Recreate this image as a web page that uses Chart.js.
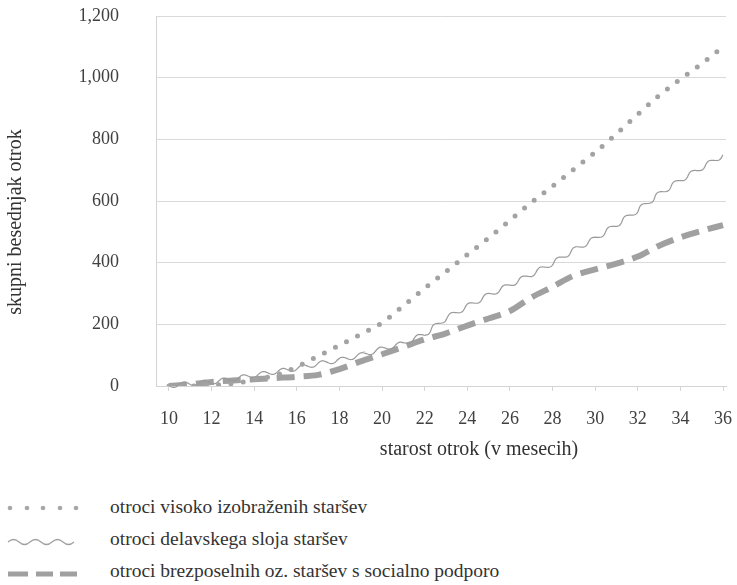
<!DOCTYPE html>
<html>
<head>
<meta charset="utf-8">
<script src="https://cdn.jsdelivr.net/npm/chart.js@4.4.1/dist/chart.umd.min.js"></script>
<style>
  body { margin: 0; background: #fff; }
  #wrap { position: relative; width: 737px; height: 585px; }
  #graf { position: absolute; left: 0; top: 0; }
  .leg { position: absolute; left: 0; height: 30px; width: 737px; font-family: "Liberation Serif", serif; font-size: 19.5px; color: #333; }
  .leg svg { position: absolute; left: 0; top: 5px; }
  .leg span { position: absolute; left: 110px; top: 3px; white-space: nowrap; }
</style>
</head>
<body>
<div id="wrap">
  <canvas id="graf" width="737" height="470"></canvas>
  <div class="leg" style="top:493px">
    <svg width="90" height="20"><g fill="#a8a8a8"><circle cx="10" cy="10" r="2.3"/><circle cx="27" cy="10" r="2.3"/><circle cx="43" cy="10" r="2.3"/><circle cx="60" cy="10" r="2.3"/><circle cx="76" cy="10" r="2.3"/></g></svg>
    <span>otroci visoko izobraženih staršev</span>
  </div>
  <div class="leg" style="top:525px">
    <svg width="90" height="20"><path d="M8 12 q5.5 -5 11 0 t11 0 t11 0 t11 0 t11 0 t11 0" fill="none" stroke="#a0a0a0" stroke-width="1.2"/></svg>
    <span>otroci delavskega sloja staršev</span>
  </div>
  <div class="leg" style="top:557px">
    <svg width="90" height="20"><g stroke="#a0a0a0" stroke-width="5"><line x1="8" y1="12" x2="28" y2="12"/><line x1="36" y1="12" x2="53" y2="12"/><line x1="60" y1="12" x2="77" y2="12"/></g></svg>
    <span>otroci brezposelnih oz. staršev s socialno podporo</span>
  </div>
</div>
<script>
// meseci (starost otrok)
const meseci = [10, 11, 12, 13, 14, 15, 16, 17, 18, 19, 20, 21, 22, 23, 24, 25, 26, 27, 28, 29, 30, 31, 32, 33, 34, 35, 36]

// skupni besednjak po skupinah
const visoko = [0, 0, 3, 8, 20, 35, 62, 97, 132, 168, 205, 260, 317, 371, 426, 480, 537, 595, 648, 703, 758, 818, 881, 942, 995, 1045, 1100]
const delavski = [1, 8, 13, 23, 35, 46, 57, 72, 84, 100, 120, 138, 168, 220, 258, 295, 328, 362, 398, 441, 478, 523, 570, 622, 668, 708, 749]
const brezposelni = [0, 5, 13, 18, 22, 26, 30, 36, 55, 80, 103, 127, 151, 171, 196, 219, 243, 287, 322, 358, 378, 397, 420, 455, 482, 503, 522]

const xOznake = [10, 12, 14, 16, 18, 20, 22, 24, 26, 28, 30, 32, 34, 36]

const serif = "'Liberation Serif', serif"

const tocke = (arr) => meseci.map((m, i) => ({ x: m, y: arr[i] }))

// valovita crta za delavski sloj
const valovi = {
    id: 'valovi',
    afterDatasetDraw(chart, args) {
        const ds = chart.data.datasets[args.index]
        if (!ds.valovita) return
        const pts = args.meta.data
        const ctx = chart.ctx
        const amp = 2.2, dolzina = 20
        ctx.save()
        ctx.beginPath()
        let s = 0
        let prvi = true
        for (let i = 0; i < pts.length - 1; i++) {
            const a = pts[i], b = pts[i + 1]
            const dx = b.x - a.x, dy = b.y - a.y
            const len = Math.hypot(dx, dy)
            const nx = -dy / len, ny = dx / len
            const n = Math.ceil(len)
            for (let k = 0; k <= n; k++) {
                const t = k / n
                const off = amp * Math.sin(2 * Math.PI * (s + t * len) / dolzina)
                const px = a.x + dx * t + nx * off
                const py = a.y + dy * t + ny * off
                if (prvi) { ctx.moveTo(px, py); prvi = false } else ctx.lineTo(px, py)
            }
            s += len
        }
        ctx.strokeStyle = ds.barvaVala
        ctx.lineWidth = 1.2
        ctx.stroke()
        ctx.restore()
    }
}

// naslova osi
const naslovi = {
    id: 'naslovi',
    afterDraw(chart) {
        const ctx = chart.ctx
        ctx.save()
        ctx.fillStyle = '#333'
        ctx.font = "20px " + serif
        ctx.textAlign = 'center'
        ctx.textBaseline = 'middle'
        ctx.fillText('starost otrok (v mesecih)', 479, 450)
        ctx.translate(16, 222)
        ctx.rotate(-Math.PI / 2)
        ctx.fillText('skupni besednjak otrok', 0, 0)
        ctx.restore()
    }
}

const config = {
    type: 'line',
    data: {
        datasets: [
            {
                label: 'otroci visoko izobraženih staršev',
                data: tocke(visoko),
                borderColor: '#a3a3a3',
                borderWidth: 5,
                borderDash: [0, 12.4],
                borderCapStyle: 'round',
                cubicInterpolationMode: 'monotone',
                pointRadius: 0
            },
            {
                label: 'otroci delavskega sloja staršev',
                data: tocke(delavski),
                valovita: true,
                barvaVala: '#9a9a9a',
                showLine: false,
                borderColor: '#9a9a9a',
                pointRadius: 0
            },
            {
                label: 'otroci brezposelnih oz. staršev s socialno podporo',
                data: tocke(brezposelni),
                borderColor: '#a0a0a0',
                borderWidth: 6,
                borderDash: [18, 9],
                cubicInterpolationMode: 'monotone',
                pointRadius: 0
            }
        ]
    },
    options: {
        responsive: false,
        animation: false,
        layout: { padding: { top: 16, right: 11, left: 0, bottom: 0 } },
        plugins: {
            legend: { display: false },
            tooltip: { enabled: false }
        },
        scales: {
            x: {
                type: 'linear',
                min: 9.39,
                max: 36.14,
                afterBuildTicks: (scale) => { scale.ticks = xOznake.map(v => ({ value: v })) },
                afterFit: (scale) => {
                    scale.height = 84
                    scale.paddingLeft = 0
                    scale.paddingRight = 0
                },
                grid: { drawOnChartArea: false, drawTicks: true, tickLength: 5, color: '#d4d4d4' },
                border: { color: '#d4d4d4' },
                ticks: {
                    padding: 17,
                    color: '#404040',
                    font: { family: serif, size: 18 },
                    maxRotation: 0,
                    autoSkip: false,
                    callback: (v) => String(v)
                }
            },
            y: {
                min: 0,
                max: 1200,
                afterFit: (scale) => {
                    scale.width = 156
                    scale.paddingTop = 0
                    scale.paddingBottom = 0
                },
                grid: { color: '#d9d9d9', drawTicks: false },
                border: { color: '#d4d4d4' },
                ticks: {
                    stepSize: 200,
                    padding: 37,
                    color: '#404040',
                    font: { family: serif, size: 18 },
                    callback: (v) => v.toLocaleString('en-US')
                }
            }
        }
    },
    plugins: [valovi, naslovi]
}

new Chart(document.querySelector('#graf'), config)
</script>
</body>
</html>
